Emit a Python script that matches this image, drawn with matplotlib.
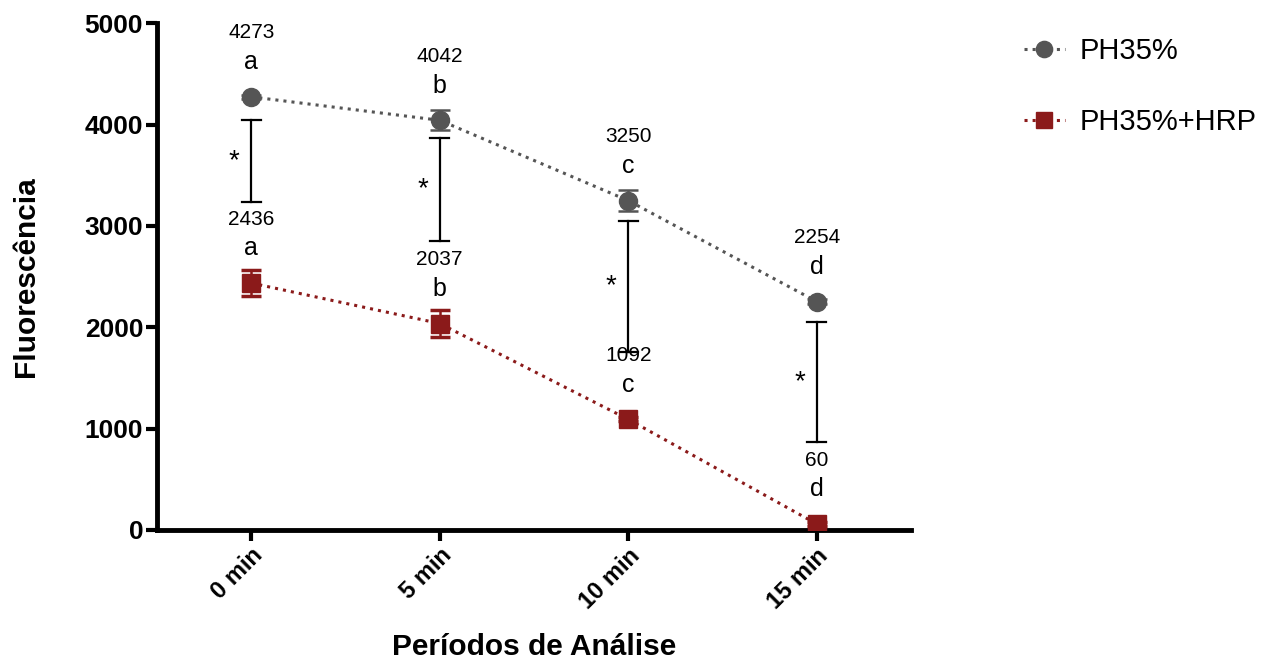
import matplotlib.pyplot as plt
from matplotlib.lines import Line2D
import numpy as np

plt.rcParams['font.family'] = ['Liberation Sans', 'DejaVu Sans']

periods = ["0 min", "5 min", "10 min", "15 min"]
ph35 = [4273, 4042, 3250, 2254]
ph35_err = [20, 100, 100, 20]
ph35_hrp = [2436, 2037, 1092, 60]
ph35_hrp_err = [130, 130, 20, 20]
ph35_letters = ["a", "b", "c", "d"]
hrp_letters = ["a", "b", "c", "d"]
# intervalo da diferença (barras pretas com *)
sig_top = [4045, 3870, 3050, 2055]
sig_bot = [3235, 2850, 1760, 868]

grey = "#555555"
red = "#8b1a1a"

fig = plt.figure(figsize=(12.82, 6.62), dpi=100)
ax = fig.add_axes([0.1225, 0.1994, 0.588, 0.7656])
x = np.arange(len(periods))

ax.errorbar(x, ph35, yerr=ph35_err, color=grey, linestyle=':', linewidth=2.2,
            marker='o', markersize=13, capsize=7, capthick=1.8, elinewidth=1.8,
            zorder=3)
ax.errorbar(x, ph35_hrp, yerr=ph35_hrp_err, color=red, linestyle=':', linewidth=2.2,
            marker='s', markersize=13, capsize=7, capthick=2.5, elinewidth=1.8,
            zorder=3)

# barras de significância
for i in range(len(x)):
    ax.plot([x[i], x[i]], [sig_bot[i], sig_top[i]], color='black', lw=1.6, zorder=2)
    ax.plot([x[i] - 0.05, x[i] + 0.05], [sig_top[i], sig_top[i]], color='black', lw=1.6)
    ax.plot([x[i] - 0.05, x[i] + 0.05], [sig_bot[i], sig_bot[i]], color='black', lw=1.6)
    ax.text(x[i] - 0.09, (sig_top[i] + sig_bot[i]) / 2, "*", ha='center', va='center',
            fontsize=20)

# rótulos de valores e letras
for i in range(len(x)):
    for vals, letters in ((ph35, ph35_letters), (ph35_hrp, hrp_letters)):
        ax.annotate(letters[i], (x[i], vals[i]), xytext=(0, 25), textcoords='offset points',
                    ha='center', va='center', fontsize=18)
        ax.annotate(str(vals[i]), (x[i], vals[i]), xytext=(0, 46), textcoords='offset points',
                    ha='center', va='center', fontsize=15)

ax.set_xlim(-0.5, 3.5)
ax.set_ylim(0, 5000)
ax.set_yticks([0, 1000, 2000, 3000, 4000, 5000])
ax.set_xticks(x)
ax.set_xticklabels(periods, rotation=45, ha='right', rotation_mode='anchor',
                   fontsize=17, fontweight='bold')
for lab in ax.get_yticklabels():
    lab.set_fontweight('bold')
    lab.set_fontsize(19)

ax.spines['top'].set_visible(False)
ax.spines['right'].set_visible(False)
ax.spines['left'].set_linewidth(3.5)
ax.spines['bottom'].set_linewidth(3.5)
ax.tick_params(width=3, length=8, direction='out', pad=2)

ax.set_xlabel("Períodos de Análise", fontsize=21.5, fontweight='bold', labelpad=14)
ax.set_ylabel("Fluorescência", fontsize=21.5, fontweight='bold', labelpad=32)

handles = [
    Line2D([], [], color=grey, linestyle=':', linewidth=2.2, marker='o', markersize=13),
    Line2D([], [], color=red, linestyle=':', linewidth=2.2, marker='s', markersize=13),
]
ax.legend(handles, ['PH35%', 'PH35%+HRP'], loc='upper left', bbox_to_anchor=(1.115, 1.025),
          frameon=False, fontsize=21, handlelength=1.4, handletextpad=0.5,
          labelspacing=1.5, markerscale=0.9)

fig.savefig("out.png", dpi=100)
